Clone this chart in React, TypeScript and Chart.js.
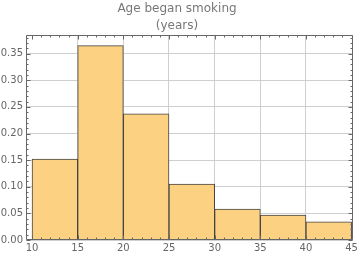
import React, { useEffect, useRef } from 'react';
import { Chart, registerables } from 'chart.js';
Chart.register(...registerables);

const binStarts = [10, 15, 20, 25, 30, 35, 40];
const binWidth = 5;
const densities = [0.152, 0.365, 0.237, 0.105, 0.058, 0.047, 0.034];
const xTickValues = [10, 15, 20, 25, 30, 35, 40, 45];
const yTickValues = [0, 0.05, 0.1, 0.15, 0.2, 0.25, 0.3, 0.35];
const titleLines = ['Age began smoking', '(years)'];

const FONT = "'DejaVu Sans', sans-serif";

const framePlugin = {
  id: 'frameTicks',
  afterDatasetsDraw(chart: any) {
    const { ctx, chartArea: a, scales } = chart;
    const x = scales.x, y = scales.y;
    const L = Math.round(a.left) + 0.5, R = Math.round(a.right) - 0.5;
    const T = Math.round(a.top) + 0.5, B = Math.round(a.bottom) - 0.5;
    ctx.save();
    ctx.strokeStyle = '#666';
    ctx.lineWidth = 1;
    ctx.beginPath();
    ctx.rect(L, T, R - L, B - T);
    ctx.stroke();
    ctx.beginPath();
    for (let v = 10; v <= 45; v += 1) {
      const px = Math.round(x.getPixelForValue(v)) + 0.5;
      const len = v % 5 === 0 ? 4 : 2;
      ctx.moveTo(px, B); ctx.lineTo(px, B - len);
      ctx.moveTo(px, T); ctx.lineTo(px, T + len);
    }
    for (let i = 0; i <= 38; i++) {
      const v = i / 100;
      const py = Math.round(y.getPixelForValue(v)) + 0.5;
      const len = i % 5 === 0 ? 4 : 2;
      ctx.moveTo(L, py); ctx.lineTo(L + len, py);
      ctx.moveTo(R, py); ctx.lineTo(R - len, py);
    }
    ctx.stroke();
    ctx.restore();
  },
};

export default function App() {
  const ref = useRef<HTMLCanvasElement | null>(null);
  useEffect(() => {
    document.body.style.margin = '0';
    const chart = new Chart(ref.current as HTMLCanvasElement, {
      type: 'bar',
      data: {
        datasets: [
          {
            data: binStarts.map((s, i) => ({ x: s + binWidth / 2, y: densities[i] })),
            backgroundColor: '#fcd181',
            borderColor: '#444',
            borderWidth: 1,
            barPercentage: 1,
            categoryPercentage: 1,
          } as any,
        ],
      },
      options: {
        animation: false,
        responsive: false,
        maintainAspectRatio: false,
        layout: { padding: { left: 0, right: 6, top: 0, bottom: 0 } },
        plugins: {
          legend: { display: false },
          tooltip: { enabled: false },
          title: {
            display: true,
            text: titleLines,
            color: '#777',
            font: { family: FONT, size: 12, weight: 'normal', lineHeight: 17 / 12 },
            padding: { top: 0, bottom: 1 },
          },
        },
        scales: {
          x: {
            type: 'linear',
            min: 9.34,
            max: 45.14,
            offset: false,
            afterBuildTicks: (s: any) => { s.ticks = xTickValues.map((v) => ({ value: v })); },
            afterFit: (s: any) => { s.height = 18; },
            ticks: { color: '#666', font: { family: FONT, size: 10 }, padding: 2, maxRotation: 0, autoSkip: false },
            grid: { offset: false, color: (c: any) => (c.tick && (c.tick.value === 10 || c.tick.value === 45) ? 'rgba(0,0,0,0)' : '#cfcfcf'), drawTicks: false },
            border: { display: false },
          },
          y: {
            type: 'linear',
            min: 0,
            max: 0.385,
            afterBuildTicks: (s: any) => { s.ticks = yTickValues.map((v) => ({ value: v })); },
            afterFit: (s: any) => { s.width = 26; },
            ticks: {
              color: '#666',
              font: { family: FONT, size: 10 },
              padding: 3,
              callback: (v: any) => Number(v).toFixed(2),
            },
            grid: { color: '#cfcfcf', drawTicks: false },
            border: { display: false },
          },
        },
      },
      plugins: [framePlugin],
    });
    return () => chart.destroy();
  }, []);
  return (
    <div style={{ position: 'absolute', left: 0, top: 0, width: 360, height: 258 }}>
      <canvas ref={ref} width={360} height={258} style={{ width: 360, height: 258 }} />
    </div>
  );
}
